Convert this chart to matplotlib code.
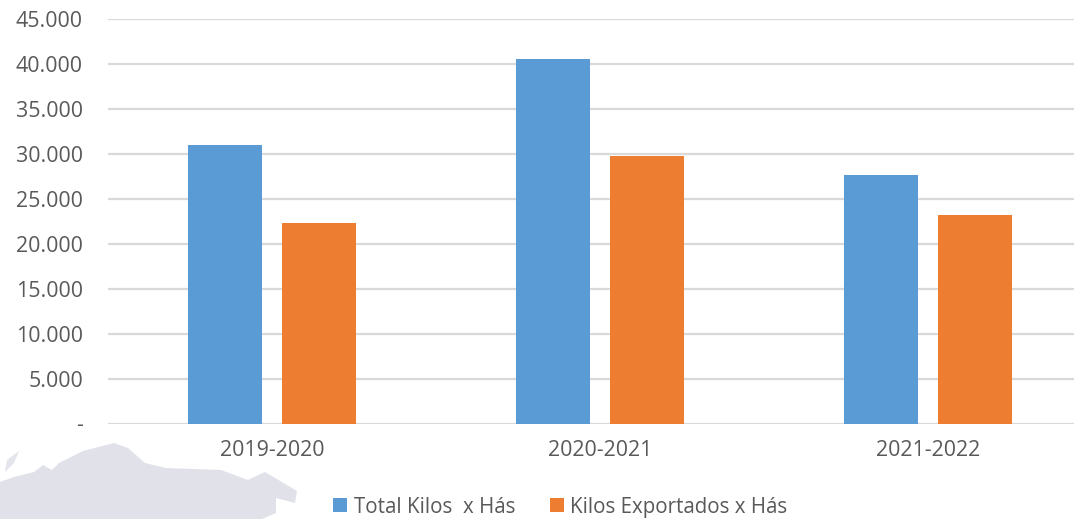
import matplotlib.pyplot as plt
import numpy as np

categories = ["2019-2020", "2020-2021", "2021-2022"]
total_kilos = [31000, 40600, 27600]
kilos_exportados = [22300, 29800, 23200]
yticks = [0, 5000, 10000, 15000, 20000, 25000, 30000, 35000, 40000, 45000]
ytick_labels = ["-", "5.000", "10.000", "15.000", "20.000", "25.000", "30.000", "35.000", "40.000", "45.000"]

# faint map behind the legend, traced in pixels of the figure
map_outline = [(0, 482), (14, 477), (34, 472), (43, 465), (52, 470), (59, 463), (83, 451),
               (114, 443), (128, 448), (145, 463), (166, 468), (221, 470), (248, 480),
               (265, 472), (297, 491), (295, 503), (276, 498), (276, 513), (262, 519), (0, 519)]
map_island = [(5, 472), (7, 460), (19, 451), (14, 463)]

W, H = 1074, 519
plt.rcParams["font.family"] = ["Open Sans", "DejaVu Sans"]
fig = plt.figure(figsize=(W / 100, H / 100), dpi=100)

bg = fig.add_axes([0, 0, 1, 1], zorder=0)
bg.set_xlim(0, W)
bg.set_ylim(H, 0)
bg.axis("off")
bg.fill(*zip(*map_outline), color="#e1e1ea", lw=0)
bg.fill(*zip(*map_island), color="#e4e4ec", lw=0)

# axes run from x=108 to the right edge, y=0 at 423 and 45000 at 19
ax = fig.add_axes([108 / W, (H - 423.5) / H, (W - 108) / W, 404.5 / H], zorder=1)
ax.patch.set_alpha(0)

x = np.arange(len(categories))
width = 0.224
offset = 0.143
ax.bar(x - offset, total_kilos, width, color="#5b9bd5", label="Total Kilos  x Hás", zorder=3)
ax.bar(x + offset, kilos_exportados, width, color="#ed7d31", label="Kilos Exportados x Hás", zorder=3)

ax.set_xlim(-0.5, -0.5 + (W - 108) / 328)
ax.set_ylim(0, 45000)
ax.set_yticks(yticks)
ax.set_yticklabels(ytick_labels)
ax.set_xticks(x)
ax.set_xticklabels(categories)
ax.grid(axis="y", color="#d9d9d9", lw=1.6, zorder=1)
ax.set_axisbelow(True)
ax.tick_params(axis="both", length=0, labelsize=15.4, labelcolor="#595959")
ax.tick_params(axis="y", pad=18)
ax.tick_params(axis="x", pad=12)
for s in ax.spines.values():
    s.set_visible(False)

fig.legend(loc="lower left", bbox_to_anchor=(319 / W, -13 / H), ncol=2, frameon=False,
           fontsize=14.8, labelcolor="#595959", handlelength=0.68, handleheight=0.68,
           handletextpad=0.3, columnspacing=1.7, borderpad=0.2)

fig.savefig("out.png", dpi=100)
